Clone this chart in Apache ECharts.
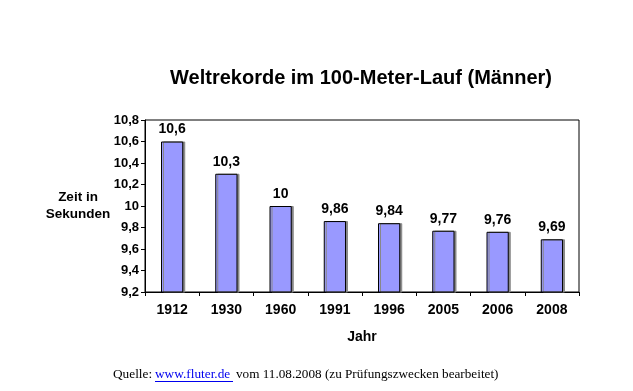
<!DOCTYPE html>
<html><head><meta charset="utf-8">
<script src="https://cdn.jsdelivr.net/npm/echarts@6/dist/echarts.min.js"></script>
<style>html,body{margin:0;padding:0;background:#fff}#c{width:633px;height:391px}</style>
</head><body><div id="c"></div>
<script>
const categories = ['1912','1930','1960','1991','1996','2005','2006','2008'];
const values = [10.6, 10.3, 10.0, 9.86, 9.84, 9.77, 9.76, 9.69];
const yTicks = {min: 9.2, max: 10.8, interval: 0.2};
const fmt = v => String(Math.round(v*100)/100).replace('.', ',');
const chart = echarts.init(document.getElementById('c'));
chart.setOption({
  animation: false,
  title: {text: 'Weltrekorde im 100-Meter-Lauf (Männer)', left: 356, textAlign: 'center', top: 63,
    textStyle: {fontFamily: 'Liberation Sans', fontWeight: 'bold', fontSize: 20, color: '#000'}},
  grid: {left: 145, right: 54, top: 120, bottom: 99, show: true, borderColor: '#000', borderWidth: 1, backgroundColor: 'transparent'},
  xAxis: {type: 'category', data: categories,
    name: 'Jahr', nameLocation: 'middle', nameGap: 38,
    nameTextStyle: {fontFamily: 'Liberation Sans', fontWeight: 'bold', fontSize: 14, color: '#000'},
    axisLine: {lineStyle: {color: '#000'}}, axisTick: {show: true, length: 4, lineStyle: {color: '#000'}},
    axisLabel: {fontFamily: 'Liberation Sans', fontWeight: 'bold', fontSize: 14, color: '#000', margin: 11}},
  yAxis: {type: 'value', min: yTicks.min, max: yTicks.max, interval: yTicks.interval,
    splitLine: {show: false},
    axisLine: {show: true, lineStyle: {color: '#000'}}, axisTick: {show: true, length: 4, lineStyle: {color: '#000'}},
    axisLabel: {formatter: fmt, fontFamily: 'Liberation Sans', fontWeight: 'bold', fontSize: 13, color: '#000', margin: 6}},
  graphic: [
    {type: 'text', x: 78, y: 197, style: {text: 'Zeit in', fontFamily: 'Liberation Sans', fontWeight: 'bold', fontSize: 13.5, fill: '#000', textAlign: 'center', textVerticalAlign: 'middle'}},
    {type: 'text', x: 78, y: 214, style: {text: 'Sekunden', fontFamily: 'Liberation Sans', fontWeight: 'bold', fontSize: 13.5, fill: '#000', textAlign: 'center', textVerticalAlign: 'middle'}},
    {type: 'text', x: 113, y: 375, style: {text: 'Quelle: ', fontFamily: 'Liberation Serif', fontSize: 13.3, fill: '#000', textVerticalAlign: 'middle'}},
    {type: 'text', x: 155, y: 375, style: {text: 'www.fluter.de', fontFamily: 'Liberation Serif', fontSize: 13.3, fill: '#0000ee', textVerticalAlign: 'middle'}},
    {type: 'text', x: 236, y: 375, style: {text: 'vom 11.08.2008 (zu Prüfungszwecken bearbeitet)', fontFamily: 'Liberation Serif', fontSize: 13.2, fill: '#000', textVerticalAlign: 'middle'}},
    {type: 'line', shape: {x1: 155, y1: 381.5, x2: 233, y2: 381.5}, style: {stroke: '#0000ee', lineWidth: 1}}
  ],
  series: [{type: 'bar', data: values, barWidth: '41%',
    itemStyle: {color: '#9999FF', borderColor: '#000', borderWidth: 1, shadowColor: '#888', shadowOffsetX: 2, shadowOffsetY: 0, shadowBlur: 0},
    label: {show: true, position: 'top', distance: 5, formatter: p => fmt(p.value), fontFamily: 'Liberation Sans', fontWeight: 'bold', fontSize: 14, color: '#000'}}]
});
</script></body></html>
